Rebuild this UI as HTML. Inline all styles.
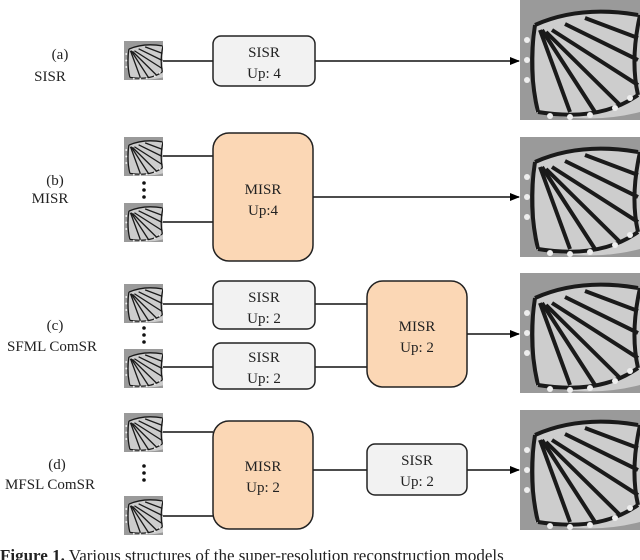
<!DOCTYPE html>
<html><head><meta charset="utf-8"><style>
html,body{margin:0;padding:0;background:#fff;}
svg{display:block;}
text{font-family:"Liberation Serif",serif;fill:#222;}
</style></head><body>
<svg width="640" height="560" viewBox="0 0 640 560" xmlns="http://www.w3.org/2000/svg">
<defs>
<symbol id="bf" viewBox="0 0 120 120">
<rect width="120" height="120" fill="#9a9a9a"/>
<path d="M15 25 Q60 5 120 15 L120 112 Q70 125 15 112 Z" fill="#cdcdcd"/>
<g stroke="#1a1a1a" stroke-width="4" fill="none">
<path d="M15 25 Q60 5 118 15"/>
<path d="M15 25 Q8 70 18 112"/>
<path d="M20 30 L50 112"/>
<path d="M22 30 L75 112"/>
<path d="M26 32 L100 105"/>
<path d="M32 30 L118 85"/>
<path d="M45 24 L118 60"/>
<path d="M65 18 L118 38"/>
<path d="M18 112 Q80 122 118 95"/>
<path d="M120 15 Q110 60 118 95"/>
</g>
<g fill="#eee"><circle cx="30" cy="116" r="3"/><circle cx="50" cy="117" r="3"/><circle cx="70" cy="115" r="3"/><circle cx="95" cy="108" r="3"/><circle cx="110" cy="98" r="3"/><circle cx="7" cy="40" r="3"/><circle cx="7" cy="60" r="3"/><circle cx="7" cy="80" r="3"/></g>
</symbol>
<marker id="ar" markerWidth="10" markerHeight="10" refX="9" refY="5" orient="auto" markerUnits="userSpaceOnUse"><path d="M0,1 L10,5 L0,9 Z" fill="#000"/></marker>
</defs>
<g font-size="15" text-anchor="middle">
<text x="60" y="59">(a)</text><text x="50" y="81">SISR</text>
<text x="55" y="185">(b)</text><text x="50" y="203">MISR</text>
<text x="55" y="330">(c)</text><text x="52" y="351">SFML ComSR</text>
<text x="57" y="469">(d)</text><text x="50" y="489">MFSL ComSR</text>
</g>
<g stroke="#111" stroke-width="1.6" fill="none">
<line x1="163" y1="61" x2="213" y2="61"/>
<line x1="315" y1="61" x2="519" y2="61" marker-end="url(#ar)"/>
<line x1="163" y1="156" x2="213" y2="156"/>
<line x1="163" y1="222" x2="213" y2="222"/>
<line x1="313" y1="197" x2="519" y2="197" marker-end="url(#ar)"/>
<line x1="163" y1="304" x2="213" y2="304"/>
<line x1="163" y1="367" x2="213" y2="367"/>
<line x1="315" y1="304" x2="367" y2="304"/>
<line x1="315" y1="367" x2="367" y2="367"/>
<line x1="467" y1="334" x2="519" y2="334" marker-end="url(#ar)"/>
<line x1="163" y1="432" x2="213" y2="432"/>
<line x1="163" y1="516" x2="213" y2="516"/>
<line x1="313" y1="470" x2="367" y2="470"/>
<line x1="467" y1="470" x2="519" y2="470" marker-end="url(#ar)"/>
</g>
<g stroke="#222" stroke-width="1.5">
<rect x="213" y="36" width="102" height="50" rx="8" fill="#f2f2f2"/>
<rect x="213" y="133" width="100" height="128" rx="16" fill="#fbd7b5"/>
<rect x="213" y="281" width="102" height="48" rx="8" fill="#f2f2f2"/>
<rect x="213" y="343" width="102" height="46" rx="8" fill="#f2f2f2"/>
<rect x="367" y="281" width="100" height="106" rx="16" fill="#fbd7b5"/>
<rect x="213" y="421" width="100" height="108" rx="16" fill="#fbd7b5"/>
<rect x="367" y="444" width="100" height="51" rx="8" fill="#f2f2f2"/>
</g>
<g font-size="15" text-anchor="middle">
<text x="264" y="57">SISR</text><text x="264" y="78">Up: 4</text>
<text x="263" y="194">MISR</text><text x="263" y="215">Up:4</text>
<text x="264" y="302">SISR</text><text x="264" y="323">Up: 2</text>
<text x="264" y="362">SISR</text><text x="264" y="383">Up: 2</text>
<text x="417" y="331">MISR</text><text x="417" y="352">Up: 2</text>
<text x="263" y="471">MISR</text><text x="263" y="492">Up: 2</text>
<text x="417" y="465">SISR</text><text x="417" y="486">Up: 2</text>
</g>
<g fill="#111">
<circle cx="144" cy="183" r="1.8"/><circle cx="144" cy="190" r="1.8"/><circle cx="144" cy="197" r="1.8"/>
<circle cx="144" cy="328" r="1.8"/><circle cx="144" cy="335" r="1.8"/><circle cx="144" cy="342" r="1.8"/>
<circle cx="144" cy="466" r="1.8"/><circle cx="144" cy="473" r="1.8"/><circle cx="144" cy="480" r="1.8"/>
</g>
<use href="#bf" x="124" y="41" width="39" height="39"/>
<use href="#bf" x="124" y="137" width="39" height="39"/>
<use href="#bf" x="124" y="203" width="39" height="39"/>
<use href="#bf" x="124" y="284" width="39" height="39"/>
<use href="#bf" x="124" y="349" width="39" height="39"/>
<use href="#bf" x="124" y="413" width="39" height="39"/>
<use href="#bf" x="124" y="496" width="39" height="39"/>
<use href="#bf" x="520" y="0" width="120" height="120"/>
<use href="#bf" x="520" y="137" width="120" height="120"/>
<use href="#bf" x="520" y="273" width="120" height="120"/>
<use href="#bf" x="520" y="410" width="120" height="120"/>
<text x="0" y="561" font-size="17"><tspan font-weight="bold">Figure 1.</tspan> Various structures of the super-resolution reconstruction models</text>
</svg>
</body></html>
